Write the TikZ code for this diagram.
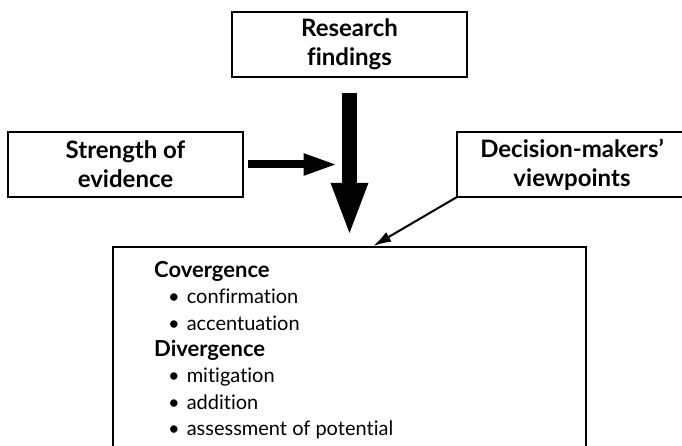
\documentclass[tikz,border=0pt]{standalone}
\usepackage{fontspec}
\setmainfont{Lato}[Ligatures=NoCommon]
\usetikzlibrary{positioning, arrows.meta}

\begin{document}
\begin{tikzpicture}[x=1pt, y=-1pt,
        labelbox/.style={draw, line width=2pt, minimum width=235pt, minimum height=65pt, inner sep=0pt, outer sep=0pt, align=center, font=\fontsize{24}{29}\bfseries\selectfont}]
        % Fix the page to the size of the reference
        \useasboundingbox (0,0) rectangle (682,446);
        \clip (0,0) rectangle (682,446);

        %%% Top element
            % Research findings box
            \node[labelbox] (research) at (349.5,44.5) {Research\\findings};

        %%% Side elements
            % Strength box, below and to the left of research
            \node[labelbox, below left=55pt and -11pt of research] (strength) {Strength of\\evidence};

            % Viewpoints box, below and to the right of research (runs off the page)
            \node[labelbox, minimum width=230pt, below right=55pt and -10pt of research] (viewpoints) {Decision-makers'\\viewpoints};

        %%% Bottom element
            % Outcome box, open at the bottom of the page
            \node[draw, line width=2pt, minimum width=473pt, minimum height=220pt, inner sep=0pt, outer sep=0pt, below=170pt of research] (outcome) {};

            % The list inside the outcome box
            \node[anchor=north west, inner sep=0pt, align=left, font=\fontsize{20}{26.4}\selectfont] (outcomelist) at ([xshift=41pt, yshift=-14pt]outcome.north west)
                {{\fontsize{22}{26.4}\selectfont\bfseries Covergence}\\
                 \hspace{14pt}\textbullet\hspace{7pt}confirmation\\
                 \hspace{14pt}\textbullet\hspace{7pt}accentuation\\
                 {\fontsize{22}{26.4}\selectfont\bfseries Divergence}\\
                 \hspace{14pt}\textbullet\hspace{7pt}mitigation\\
                 \hspace{14pt}\textbullet\hspace{7pt}addition\\
                 \hspace{14pt}\textbullet\hspace{7pt}assessment of potential};

        %%% Connectors
            % Free ends of the two side arrows
            \coordinate (meet) at ([xshift=-12pt]research.south |- strength.east);
            \coordinate (land) at ([xshift=22pt]outcome.north);

            % Heavy arrow from research down to the outcome
            \draw[line width=15pt, -{Triangle[length=54pt, width=33pt]}, shorten <=16pt, shorten >=10pt] (research.south) -- (research.south |- outcome.north);

            % Arrow from strength towards the heavy arrow
            \draw[line width=8pt, -{Triangle[length=34pt, width=20pt]}, shorten <=5pt] (strength.east) -- (meet);

            % Thin arrow from viewpoints to the outcome
            \draw[line width=2pt, -{Latex[length=18pt, width=11pt]}, shorten >=2pt] (viewpoints.south west) -- (land);
\end{tikzpicture}
\end{document}
